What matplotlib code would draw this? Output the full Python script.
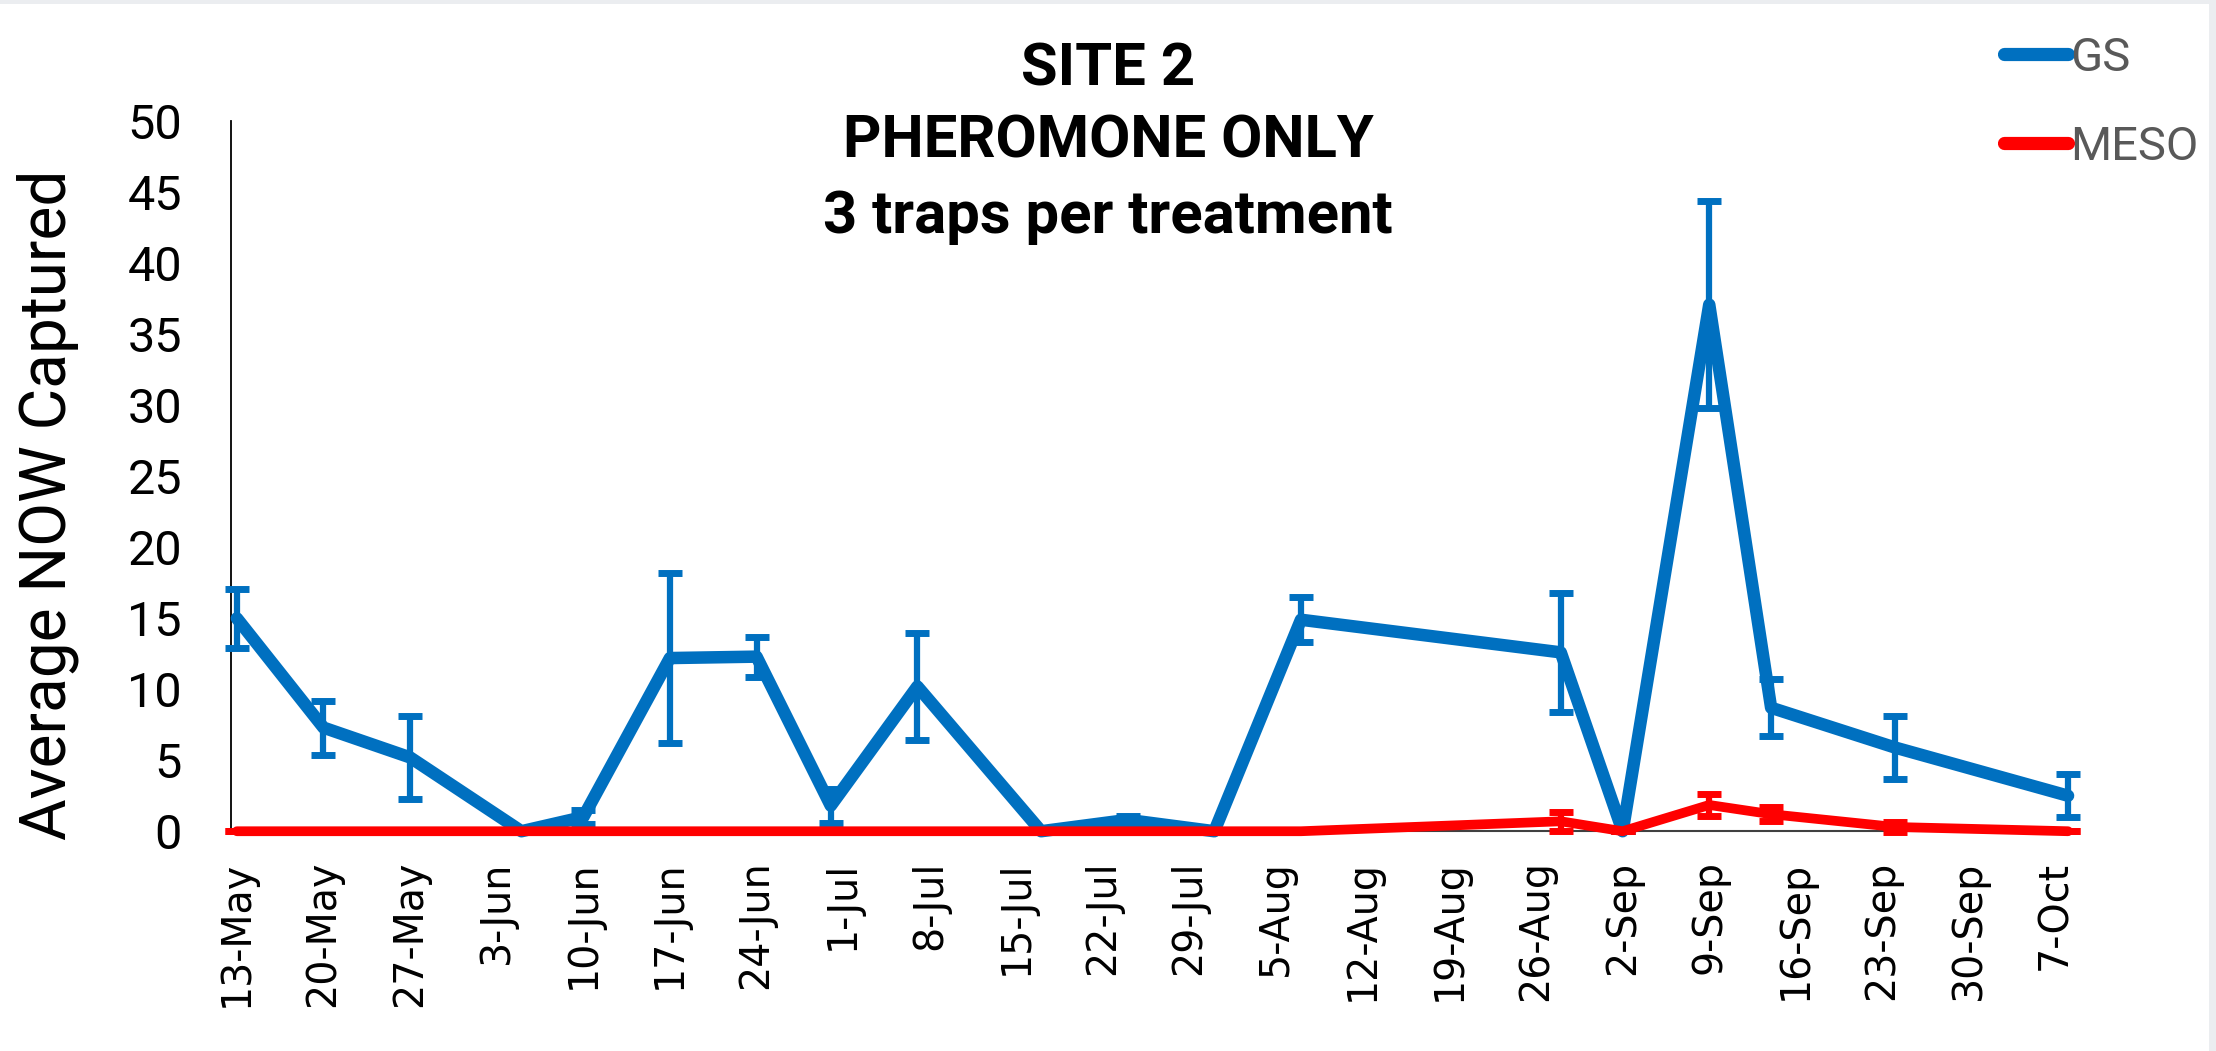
import pandas as pd
import matplotlib
matplotlib.use('Agg')
import matplotlib.pyplot as plt
from matplotlib.patches import Rectangle

# trap check dates
check_dates = ['2019-05-13', '2019-05-20', '2019-05-27', '2019-06-05', '2019-06-10',
               '2019-06-17', '2019-06-24', '2019-06-30', '2019-07-07', '2019-07-17',
               '2019-07-24', '2019-07-31', '2019-08-07', '2019-08-28', '2019-09-02',
               '2019-09-09', '2019-09-14', '2019-09-24', '2019-10-08']

gs = [15.0, 7.3, 5.2, 0, 1.0, 12.2, 12.3, 1.8, 10.2, 0, 0.8, 0, 14.9, 12.6, 0, 37.1, 8.7, 5.9, 2.5]
gs_err = [2.1, 1.9, 2.9, 0, 0.5, 6.0, 1.4, 1.2, 3.8, 0, 0.3, 0, 1.6, 4.2, 0, 7.3, 2.0, 2.2, 1.5]

meso = [0, 0, 0, 0, 0, 0, 0, 0, 0, 0, 0, 0, 0, 0.7, 0, 1.85, 1.2, 0.3, 0]
meso_err = [0, 0, 0, 0, 0, 0, 0, 0, 0, 0, 0, 0, 0, 0.65, 0, 0.8, 0.5, 0.35, 0]

tick_labels = ['13-May', '20-May', '27-May', '3-Jun', '10-Jun', '17-Jun', '24-Jun',
               '1-Jul', '8-Jul', '15-Jul', '22-Jul', '29-Jul', '5-Aug', '12-Aug',
               '19-Aug', '26-Aug', '2-Sep', '9-Sep', '16-Sep', '23-Sep', '30-Sep', '7-Oct']

title_lines = ['SITE 2', 'PHEROMONE ONLY', '3 traps per treatment']

BLUE = '#0070C0'
RED = '#FF0000'

dates = pd.to_datetime(check_dates)
tick_dates = pd.date_range('2019-05-13', periods=len(tick_labels), freq='7D')

fig = plt.figure(figsize=(22.16, 10.51), dpi=100)
fig.patch.set_facecolor('#ebedf0')
fig.add_artist(Rectangle((0, 0), 2209 / 2216, 1047 / 1051, transform=fig.transFigure,
                         facecolor='white', edgecolor='none', zorder=-10))

ax = fig.add_axes([0.1041, 0.2091, 0.8310, 0.6753])
ax.set_facecolor('none')

# series lines
gs_line, = ax.plot(dates, gs, color=BLUE, lw=9, solid_joinstyle='round',
                   solid_capstyle='round', zorder=3, clip_on=False, label='GS')
ax.errorbar(dates, gs, yerr=gs_err, fmt='none', ecolor=BLUE, elinewidth=4.5,
            capsize=8.5, capthick=5, zorder=3.5, clip_on=False)
meso_line, = ax.plot(dates, meso, color=RED, lw=7, solid_joinstyle='round',
                     solid_capstyle='round', zorder=4, clip_on=False, label='MESO')
ax.errorbar(dates, meso, yerr=meso_err, fmt='none', ecolor=RED, elinewidth=4.5,
            capsize=8.5, capthick=5, zorder=4.5, clip_on=False)

ax.set_xlim(dates[0] - pd.Timedelta(hours=12), dates[-1] + pd.Timedelta(hours=8))
ax.set_xticks(tick_dates)
ax.set_xticklabels(tick_labels, rotation=90, fontsize=28.5, family='DejaVu Sans')
ax.tick_params(axis='x', length=0, pad=21)

ax.set_ylim(0, 50)
ax.set_yticks(range(0, 51, 5))
ax.set_yticklabels([str(v) for v in range(0, 51, 5)], fontsize=35, family='Roboto')
ax.tick_params(axis='y', length=0, pad=35)

for s in ['top', 'right']:
    ax.spines[s].set_visible(False)
ax.spines['left'].set_linewidth(1.3)
ax.spines['left'].set_color('black')
ax.spines['bottom'].set_linewidth(1.5)
ax.spines['bottom'].set_color('#404040')

fig.text(0.0215, 1 - 505 / 1051, 'Average NOW Captured', rotation=90, ha='center',
         va='center', fontsize=46, family='Roboto')

for txt, base in zip(title_lines, [85, 158, 233]):
    fig.text(0.5, 1 - base / 1051, txt, ha='center', va='baseline', fontsize=43,
             weight='bold', family='Roboto')

leg = fig.legend(handles=[gs_line, meso_line], loc='upper left',
                 bbox_to_anchor=(2004 / 2216, 1 - 36 / 1051), frameon=False,
                 prop={'family': 'Roboto', 'size': 34}, handlelength=1.35,
                 handletextpad=0.05, labelspacing=0.95, borderpad=0, borderaxespad=0,
                 labelcolor='#595959')
for h in leg.get_lines():
    h.set_linewidth(9.5)

fig.savefig('out.png', dpi=100, facecolor=fig.get_facecolor())
